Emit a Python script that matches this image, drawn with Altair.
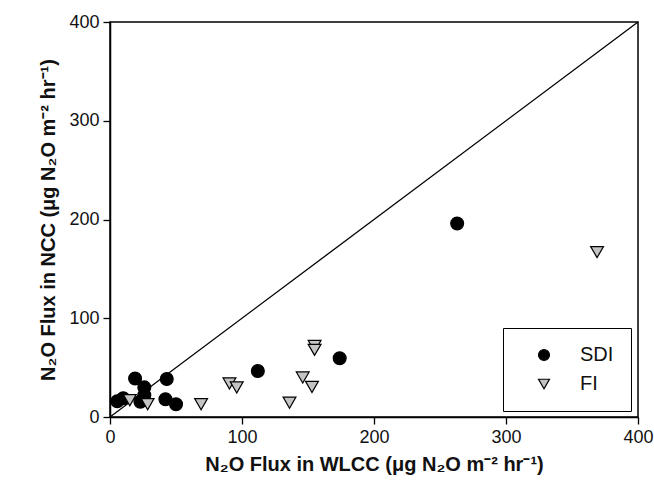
import altair as alt
import pandas as pd

# N2O flux pairs (WLCC on x, NCC on y), by irrigation treatment
sdi_wlcc = [5.5, 10, 19, 26, 26, 23, 43, 42, 50, 112, 174, 263]
sdi_ncc = [16, 19, 39, 30, 22, 15.5, 38.5, 18, 13, 46.5, 59.5, 196]
fi_wlcc = [15, 28.5, 69, 90.5, 96, 136, 146, 153, 155, 155, 369]
fi_ncc = [17, 13, 13, 34, 30, 14.5, 40, 30.5, 72, 68, 167]

# 1:1 reference line
diag = [0, 400]

points = pd.DataFrame({
    "wlcc": sdi_wlcc + fi_wlcc,
    "ncc": sdi_ncc + fi_ncc,
    "group": ["SDI"] * len(sdi_wlcc) + ["FI"] * len(fi_wlcc),
})
line_df = pd.DataFrame({"wlcc": diag, "ncc": diag})

FONT = "Liberation Sans"
groups = ["SDI", "FI"]

x_scale = alt.Scale(domain=[0, 400], nice=False, zero=False)
y_scale = alt.Scale(domain=[0, 400], nice=False, zero=False)

x_axis = alt.Axis(
    title="N\u2082O Flux in WLCC (\u03bcg N\u2082O m\u207b\u00b2 hr\u207b\u00b9)",
    values=[0, 100, 200, 300, 400], grid=False, labelFlush=False,
)
y_axis = alt.Axis(
    title="N\u2082O Flux in NCC (\u03bcg N\u2082O m\u207b\u00b2 hr\u207b\u00b9)",
    values=[0, 100, 200, 300, 400], grid=False, labelFlush=False,
)

diag_line = alt.Chart(line_df).mark_line(color="black", strokeWidth=1.3).encode(
    x=alt.X("wlcc:Q", scale=x_scale, axis=x_axis),
    y=alt.Y("ncc:Q", scale=y_scale, axis=y_axis),
)

legend = alt.Legend(title=None)
scatter = alt.Chart(points).mark_point(
    filled=True, size=165, strokeWidth=1.2, opacity=1
).encode(
    x=alt.X("wlcc:Q", scale=x_scale),
    y=alt.Y("ncc:Q", scale=y_scale),
    shape=alt.Shape(
        "group:N",
        scale=alt.Scale(domain=groups, range=["circle", "triangle-down"]),
        legend=legend,
    ),
    fill=alt.Fill(
        "group:N",
        scale=alt.Scale(domain=groups, range=["black", "#c4c4c4"]),
        legend=legend,
    ),
    stroke=alt.Stroke(
        "group:N",
        scale=alt.Scale(domain=groups, range=["black", "black"]),
        legend=legend,
    ),
)

chart = (
    alt.layer(diag_line, scatter)
    .properties(
        width=528,
        height=395,
        autosize=alt.AutoSizeParams(type="none"),
        padding={"left": 110, "top": 22, "right": 16, "bottom": 68},
    )
    .configure_view(stroke="black", strokeWidth=1.5)
    .configure_axis(
        domainColor="black", domainWidth=1.5,
        tickColor="black", tickWidth=1.3, tickSize=7,
        labelFont=FONT, labelFontSize=18, labelColor="#111",
        labelPadding=4,
        titleFont=FONT, titleFontSize=20, titleFontWeight="bold", titleColor="#111",
    )
    .configure_axisX(titlePadding=8)
    .configure_axisY(titlePadding=10)
    .configure_legend(
        orient="none", legendX=393, legendY=306,
        strokeColor="black", fillColor="white", padding=17,
        symbolSize=120, symbolOffset=14, symbolStrokeWidth=1.2,
        labelOffset=26, rowPadding=9,
        labelFont=FONT, labelFontSize=20, labelColor="#111",
    )
)

chart.save("out.html", embed_options={"renderer": "svg", "actions": False})
